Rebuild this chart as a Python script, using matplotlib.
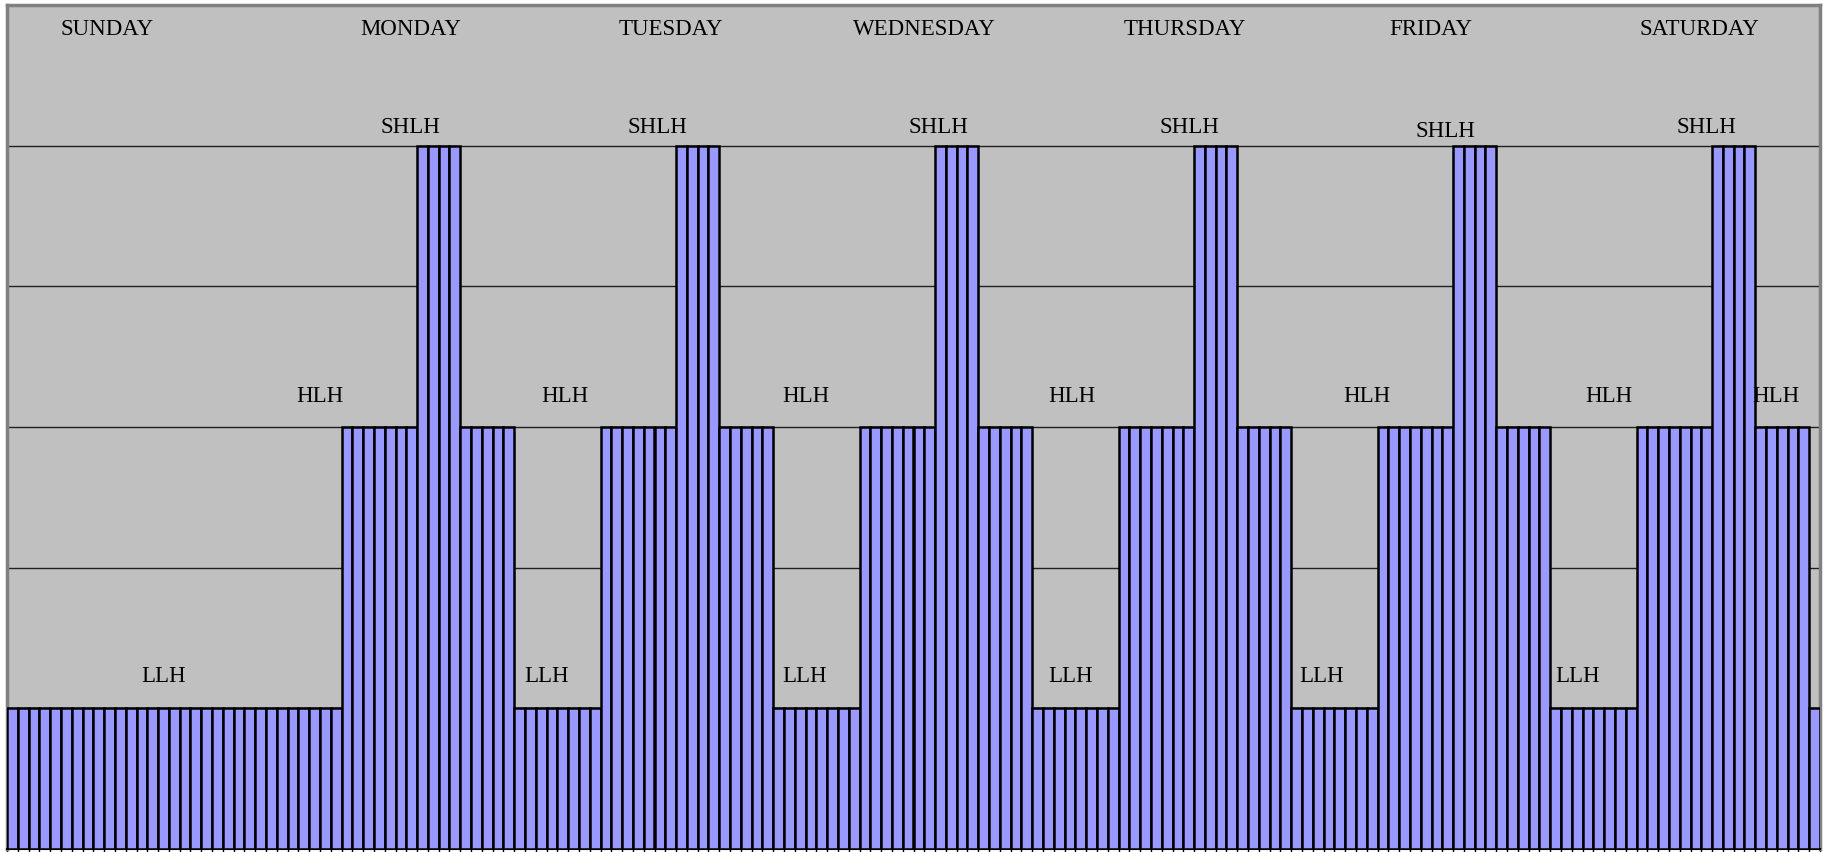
import matplotlib
matplotlib.use("Agg")
import matplotlib.pyplot as plt
import numpy as np

# Hourly tariff level for one week (Sunday 00h .. Saturday 23h)
# 1 = LLH, 3 = HLH, 5 = SHLH
sunday = [1] * 24
weekday = [1, 1, 1, 1, 1, 1, 1,      # 00-06 LLH
           3, 3, 3, 3, 3, 3, 3,      # 07-13 HLH
           5, 5, 5, 5,               # 14-17 SHLH
           3, 3, 3, 3, 3,            # 18-22 HLH
           1]                        # 23 LLH
values = sunday + weekday * 6

day_names = ["SUNDAY", "MONDAY", "TUESDAY", "WEDNESDAY", "THURSDAY", "FRIDAY", "SATURDAY"]
day_label_x = [9.3, 37.4, 61.5, 85.0, 109.1, 131.9, 156.8]

shlh_x = [37.4, 60.3, 86.3, 109.6, 133.3, 157.5]
hlh_x = [29.0, 51.7, 74.0, 98.7, 126.0, 148.4, 163.9]
llh_x = [14.5, 50.0, 73.9, 98.6, 121.8, 145.5]

W, H = 1829, 853
fig = plt.figure(figsize=(W / 100, H / 100), dpi=100)
fig.patch.set_facecolor("white")
ax = fig.add_axes([7 / W, 3 / H, (1820 - 7) / W, (850 - 6) / H])
ax.set_facecolor("#C0C0C0")

x = np.arange(len(values))
ax.bar(x, values, width=1.0, align="edge", color="#9999FF",
       edgecolor="black", linewidth=1.8, zorder=3)

ax.set_xlim(0, len(values))
ax.set_ylim(0, 6)
ax.set_yticks([1, 2, 3, 4, 5])
ax.yaxis.grid(True, color="#202020", linewidth=1.0, zorder=1)
ax.tick_params(axis="y", left=False, labelleft=False)
ax.set_xticks(np.arange(0, len(values) + 1))
ax.tick_params(axis="x", direction="out", length=3, width=1, labelbottom=False)

for side in ["left", "top", "right"]:
    ax.spines[side].set_color("#808080")
    ax.spines[side].set_linewidth(2.5)
ax.spines["bottom"].set_color("black")
ax.spines["bottom"].set_linewidth(1.5)

font = dict(family=["Liberation Serif", "DejaVu Serif"], fontsize=16.5, color="black",
            ha="center", va="center", zorder=5)

for name, xp in zip(day_names, day_label_x):
    ax.text(xp, 5.835, name, **font)
for i, xp in enumerate(shlh_x):
    ax.text(xp, 5.105 if i == 4 else 5.135, "SHLH", **font)
for xp in hlh_x:
    ax.text(xp, 3.225, "HLH", **font)
for xp in llh_x:
    ax.text(xp, 1.235, "LLH", **font)

fig.savefig("out.png", dpi=100, facecolor="white")
